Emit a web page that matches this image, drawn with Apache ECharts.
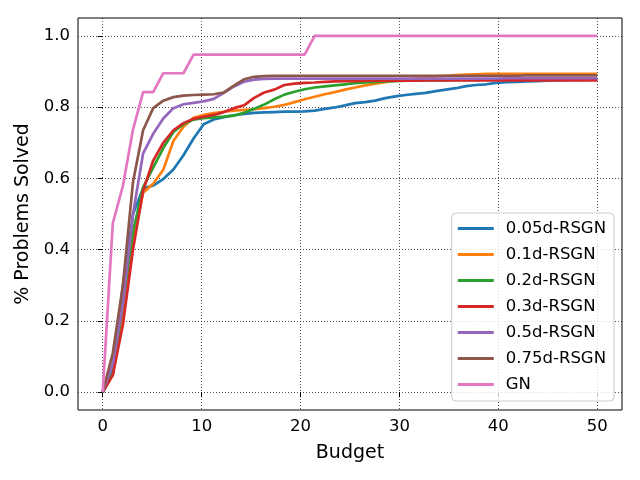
<!DOCTYPE html>
<html>
<head>
<meta charset="utf-8">
<script src="https://cdn.jsdelivr.net/npm/echarts@6/dist/echarts.min.js"></script>
<style>html,body{margin:0;padding:0;background:#fff}#c{width:640px;height:480px}</style>
</head>
<body>
<div id="c"></div>
<script>
const budget = [0,1.020,2.041,3.061,4.082,5.102,6.122,7.143,8.163,9.184,
  10.204,11.224,12.245,13.265,14.286,15.306,16.327,17.347,18.367,19.388,
  20.408,21.429,22.449,23.469,24.490,25.510,26.531,27.551,28.571,29.592,
  30.612,31.633,32.653,33.673,34.694,35.714,36.735,37.755,38.776,39.796,
  40.816,41.837,42.857,43.878,44.898,45.918,46.939,47.959,48.980,50.0];

const s005 = [0,0.06,0.30,0.50,0.572,0.58,0.598,0.625,0.665,0.712,
  0.752,0.765,0.772,0.777,0.781,0.784,0.785,0.786,0.787,0.787,
  0.788,0.79,0.795,0.799,0.805,0.811,0.814,0.818,0.825,0.83,
  0.834,0.837,0.84,0.845,0.849,0.853,0.859,0.862,0.864,0.868,
  0.87,0.871,0.872,0.873,0.874,0.875,0.876,0.876,0.877,0.877];
const s01 = [0,0.05,0.22,0.42,0.56,0.585,0.624,0.705,0.745,0.77,
  0.778,0.783,0.787,0.79,0.792,0.794,0.797,0.801,0.806,0.814,
  0.822,0.829,0.836,0.842,0.849,0.855,0.861,0.866,0.870,0.874,
  0.877,0.88,0.883,0.886,0.888,0.89,0.891,0.892,0.893,0.893,
  0.893,0.893,0.893,0.893,0.893,0.893,0.893,0.893,0.893,0.893];
const s02 = [0,0.05,0.25,0.45,0.575,0.63,0.685,0.73,0.752,0.765,
  0.769,0.771,0.773,0.776,0.784,0.795,0.807,0.822,0.835,0.843,
  0.85,0.855,0.858,0.861,0.864,0.867,0.869,0.871,0.872,0.873,
  0.874,0.874,0.875,0.875,0.875,0.876,0.876,0.876,0.876,0.877,
  0.877,0.877,0.877,0.877,0.877,0.877,0.878,0.878,0.878,0.878];
const s03 = [0,0.048,0.19,0.40,0.565,0.65,0.70,0.735,0.755,0.767,
  0.773,0.778,0.786,0.797,0.805,0.826,0.841,0.849,0.862,0.866,
  0.868,0.869,0.871,0.872,0.873,0.873,0.874,0.874,0.874,0.874,
  0.874,0.874,0.875,0.875,0.875,0.875,0.875,0.875,0.875,0.875,
  0.875,0.875,0.875,0.875,0.875,0.875,0.875,0.875,0.875,0.875];
const s05 = [0,0.08,0.25,0.50,0.67,0.725,0.768,0.797,0.808,0.812,
  0.816,0.823,0.84,0.858,0.871,0.877,0.879,0.88,0.88,0.88,
  0.88,0.88,0.88,0.88,0.88,0.88,0.88,0.88,0.88,0.88,
  0.88,0.88,0.88,0.88,0.88,0.88,0.88,0.88,0.88,0.88,
  0.881,0.881,0.881,0.881,0.881,0.881,0.881,0.881,0.881,0.881];
const s075 = [0,0.11,0.30,0.59,0.735,0.797,0.818,0.828,0.832,0.834,
  0.835,0.836,0.841,0.86,0.878,0.885,0.887,0.888,0.888,0.888,
  0.888,0.888,0.888,0.888,0.888,0.888,0.888,0.888,0.888,0.888,
  0.888,0.888,0.888,0.888,0.888,0.888,0.888,0.888,0.888,0.888,
  0.888,0.888,0.889,0.889,0.889,0.889,0.889,0.889,0.889,0.889];
const sGN = [0,0.474,0.579,0.737,0.842,0.842,0.895,0.895,0.895,0.947,
  0.947,0.947,0.947,0.947,0.947,0.947,0.947,0.947,0.947,0.947,
  0.947,1,1,1,1,1,1,1,1,1,
  1,1,1,1,1,1,1,1,1,1,
  1,1,1,1,1,1,1,1,1,1];

const names = ['0.05d-RSGN','0.1d-RSGN','0.2d-RSGN','0.3d-RSGN','0.5d-RSGN','0.75d-RSGN','GN'];
const colors = ['#1f77b4','#ff7f0e','#2ca02c','#d62728','#9467bd','#8c564b','#e377c2'];
const values = [s005,s01,s02,s03,s05,s075,sGN];
const xTicks = [0,10,20,30,40,50];
const yTicks = [0,0.2,0.4,0.6,0.8,1.0];

const FONT = 'DejaVu Sans';
const chart = echarts.init(document.getElementById('c'), null, {renderer:'canvas'});
chart.setOption({
  animation:false,
  backgroundColor:'#fff',
  textStyle:{fontFamily:FONT},
  grid:{left:78, right:18, top:18, bottom:70, show:true, borderColor:'#000', borderWidth:1, backgroundColor:'#fff', containLabel:false},
  xAxis:{type:'value', min:-2.5, max:52.5,
    name:'Budget', nameLocation:'middle', nameGap:34,
    nameTextStyle:{fontSize:19, color:'#000', fontFamily:FONT},
    axisLine:{show:false},
    axisTick:{show:true, length:5, lineStyle:{color:'#000', width:1}, customValues:xTicks},
    axisLabel:{customValues:xTicks, fontSize:16.5, color:'#000', margin:8, fontFamily:FONT, formatter:v=>String(v)},
    splitLine:{show:true, lineStyle:{color:'#222', type:[1,2], width:0.8}}
  },
  yAxis:{type:'value', min:-0.05, max:1.05,
    name:'% Problems Solved', nameLocation:'middle', nameGap:39,
    nameTextStyle:{fontSize:19, color:'#000', fontFamily:FONT},
    axisLine:{show:false},
    axisTick:{show:true, length:5, lineStyle:{color:'#000', width:1}, customValues:yTicks},
    axisLabel:{customValues:yTicks, fontSize:16.5, color:'#000', margin:8, fontFamily:FONT, formatter:v=>v.toFixed(1)},
    splitLine:{show:true, lineStyle:{color:'#222', type:[1,2], width:0.8}}
  },
  legend:{orient:'vertical', right:26, top:213,
    padding:[7,8,8,6], itemGap:9, itemWidth:36, itemHeight:3, icon:'rect',
    backgroundColor:'rgba(255,255,255,0.8)', borderColor:'#ccc', borderWidth:1, borderRadius:4,
    textStyle:{fontSize:16.5, color:'#000', fontFamily:FONT, lineHeight:17, padding:[0,0,0,7]},
    data:names},
  series: names.map((n,k)=>({
    name:n, type:'line', symbol:'none', showSymbol:false,
    lineStyle:{color:colors[k], width:2.7}, itemStyle:{color:colors[k]},
    data: budget.map((b,i)=>[b, values[k][i]])
  }))
});
</script>
</body>
</html>
